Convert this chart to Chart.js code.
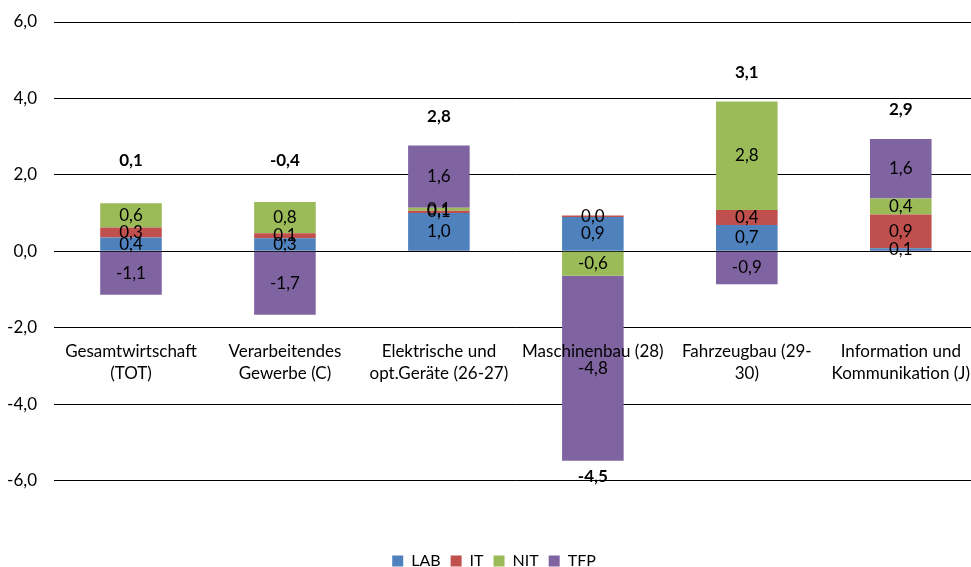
<!DOCTYPE html>
<html lang="de">
<head>
<meta charset="UTF-8">
<title>Wachstumsbeiträge</title>
<script src="https://cdn.jsdelivr.net/npm/chart.js"></script>
<style>
  html, body { margin: 0; padding: 0; background: #fff; overflow: hidden; }
  #chart { display: block; }
</style>
</head>
<body>
<canvas id="chart" width="982" height="567"></canvas>
<script>
// categories (multi-line labels)
const categories = [
  ['Gesamtwirtschaft', '(TOT)'],
  ['Verarbeitendes', 'Gewerbe (C)'],
  ['Elektrische und', 'opt.Geräte (26-27)'],
  ['Maschinenbau (28)'],
  ['Fahrzeugbau (29-', '30)'],
  ['Information und', 'Kommunikation (J)']
];
// contributions
const lab = [0.36, 0.34, 1.00, 0.90, 0.69, 0.08];
const it  = [0.26, 0.13, 0.06, 0.04, 0.39, 0.88];
const nit = [0.64, 0.82, 0.08, -0.64, 2.84, 0.42];
const tfp = [-1.14, -1.66, 1.63, -4.84, -0.86, 1.56];
const yTicks = [-6, -4, -2, 0, 2, 4, 6];

const fontFamily = 'Lato, "Open Sans", sans-serif';
Chart.defaults.font.family = fontFamily;
Chart.defaults.font.size = 17;
Chart.defaults.color = '#000';

const fmt = v => v.toFixed(1).replace('.', ',');

// segment values inside the bars + bold totals
const barLabels = {
  id: 'barLabels',
  afterDatasetsDraw(chart) {
    const ctx = chart.ctx;
    const yScale = chart.scales.y;
    ctx.save();
    ctx.fillStyle = '#000';
    ctx.textAlign = 'center';
    ctx.textBaseline = 'middle';
    ctx.font = '17px ' + fontFamily;
    chart.data.datasets.forEach((ds, di) => {
      chart.getDatasetMeta(di).data.forEach((bar, i) => {
        const p = bar.getProps(['x', 'y', 'base'], true);
        ctx.fillText(fmt(ds.data[i]), p.x, (p.y + p.base) / 2);
      });
    });
    ctx.font = 'bold 17px ' + fontFamily;
    const zero = yScale.getPixelForValue(0);
    categories.forEach((c, i) => {
      let pos = 0, neg = 0;
      chart.data.datasets.forEach(ds => {
        const v = ds.data[i];
        if (v >= 0) pos += v; else neg += v;
      });
      const total = pos + neg;
      const x = chart.getDatasetMeta(0).data[i].x;
      const ty = total < -pos
        ? yScale.getPixelForValue(neg) + 16
        : Math.min(yScale.getPixelForValue(pos) - 29, zero - 91);
      ctx.fillText(fmt(total), x, ty);
    });
    ctx.restore();
  }
};

new Chart(document.getElementById('chart'), {
  type: 'bar',
  data: {
    labels: categories,
    datasets: [
      { label: 'LAB', data: lab, backgroundColor: '#4F81BD' },
      { label: 'IT', data: it, backgroundColor: '#C0504D' },
      { label: 'NIT', data: nit, backgroundColor: '#9BBB59' },
      { label: 'TFP', data: tfp, backgroundColor: '#8064A2' }
    ]
  },
  options: {
    responsive: false,
    animation: false,
    barPercentage: 0.4,
    categoryPercentage: 1.0,
    layout: { padding: { top: 22, right: 0, bottom: -12, left: 6 } },
    plugins: {
      legend: {
        position: 'bottom',
        title: { display: true, text: ' ', padding: { top: 42, bottom: 0 } },
        labels: { boxWidth: 11, boxHeight: 11, padding: 10, color: '#000', font: { size: 16 } }
      },
      tooltip: { enabled: false }
    },
    scales: {
      x: {
        stacked: true,
        position: { y: -2 },
        grid: { display: false, drawTicks: false },
        border: { display: false },
        ticks: {
          padding: 12,
          z: 1,
          maxRotation: 0,
          autoSkip: false,
          font: { size: 17, lineHeight: '22.8px' }
        }
      },
      y: {
        stacked: true,
        min: -6,
        max: 6,
        afterBuildTicks: s => { s.ticks = yTicks.map(v => ({ value: v })); },
        afterFit: s => { s.width = 48; },
        grid: { color: '#000', drawTicks: true, tickLength: 17, tickColor: 'rgba(0,0,0,0)' },
        border: { display: false },
        ticks: { padding: 0, callback: v => fmt(v) }
      }
    }
  },
  plugins: [barLabels]
});
</script>
</body>
</html>
